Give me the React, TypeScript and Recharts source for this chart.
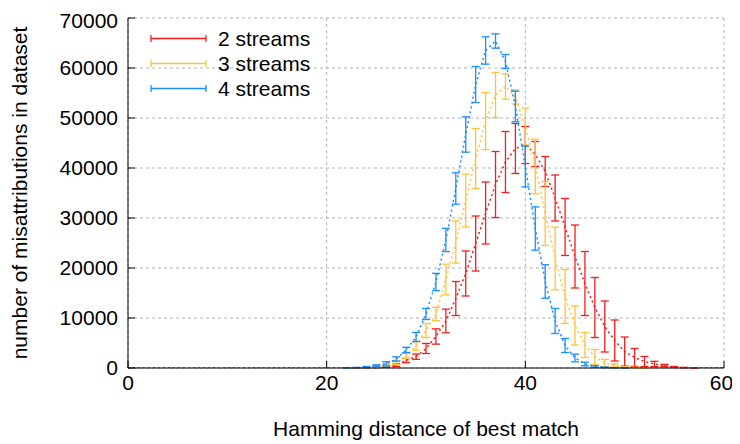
import { ComposedChart, Line, ErrorBar, XAxis, YAxis, CartesianGrid, Label } from 'recharts'

const distance = [
  0, 1, 2, 3, 4, 5, 6, 7, 8, 9, 10, 11, 12, 13, 14, 15, 16, 17, 18, 19, 20,
  21, 22, 23, 24, 25, 26, 27, 28, 29, 30, 31, 32, 33, 34, 35, 36, 37, 38, 39, 40,
  41, 42, 43, 44, 45, 46, 47, 48, 49, 50, 51, 52, 53, 54, 55, 56, 57, 58, 59, 60,
]

// 2 streams
const twoStreams = [
  0, 0, 0, 0, 0, 0, 0, 0, 0, 0, 0, 0, 0, 0, 0, 0, 0, 0, 0, 0, 0, 0, 0,
  30, 60, 120, 250, 550, 1500, 2270, 3900, 6300, 9400, 13900, 18900, 24900, 31000,
  36700, 41200, 43900, 44600, 42800, 39300, 34000, 28200, 22300, 16900, 12100, 8300,
  5500, 3300, 2100, 1300, 800, 500, 200, 80, 30, 0, 0, 0,
]
const twoStreamsErr = [
  0, 0, 0, 0, 0, 0, 0, 0, 0, 0, 0, 0, 0, 0, 0, 0, 0, 0, 0, 0, 0, 0, 0,
  20, 40, 60, 120, 280, 430, 530, 1000, 1530, 2370, 3400, 4500, 5500, 6200,
  6600, 6100, 5000, 3700, 2500, 3000, 4600, 5700, 6300, 6400, 6000, 5100,
  4100, 2900, 1800, 1000, 530, 230, 100, 50, 20, 0, 0, 0,
]

// 3 streams
const threeStreams = [
  0, 0, 0, 0, 0, 0, 0, 0, 0, 0, 0, 0, 0, 0, 0, 0, 0, 0, 0, 0, 0, 0, 0,
  50, 130, 300, 600, 1050, 2400, 4400, 7500, 10800, 17700, 25200, 33500, 41900, 49400,
  54600, 56300, 54200, 48300, 40300, 30900, 21900, 14300, 8500, 4600, 2200, 1000,
  500, 200, 80, 30, 0, 0, 0, 0, 0, 0, 0, 0,
]
const threeStreamsErr = [
  0, 0, 0, 0, 0, 0, 0, 0, 0, 0, 0, 0, 0, 0, 0, 0, 0, 0, 0, 0, 0, 0, 0,
  30, 60, 130, 250, 350, 500, 830, 1400, 1330, 3070, 4230, 5270, 6000, 5700,
  4500, 2530, 1400, 3670, 5470, 6400, 6270, 5400, 3900, 2500, 1500, 730,
  300, 130, 50, 20, 0, 0, 0, 0, 0, 0, 0, 0,
]

// 4 streams
const fourStreams = [
  0, 0, 0, 0, 0, 0, 0, 0, 0, 0, 0, 0, 0, 0, 0, 0, 0, 0, 0, 0, 0, 0,
  30, 80, 200, 500, 830, 1800, 3600, 6200, 10800, 17200, 25600, 35900, 46700, 56700,
  63500, 65400, 61300, 52300, 40300, 27900, 17300, 9400, 4500, 2000, 800, 300,
  120, 50, 20, 0, 0, 0, 0, 0, 0, 0, 0, 0, 0,
]
const fourStreamsErr = [
  0, 0, 0, 0, 0, 0, 0, 0, 0, 0, 0, 0, 0, 0, 0, 0, 0, 0, 0, 0, 0, 0,
  20, 40, 100, 130, 430, 430, 530, 900, 1100, 1730, 2330, 3130, 3530, 3600,
  2730, 1430, 1400, 3070, 4070, 4330, 3350, 2500, 1400, 770, 370, 150,
  60, 30, 10, 0, 0, 0, 0, 0, 0, 0, 0, 0, 0,
]

const xTicks = [0, 20, 40, 60]
const yTicks = [0, 10000, 20000, 30000, 40000, 50000, 60000, 70000]
const seriesNames = ['2 streams', '3 streams', '4 streams']

const RED = '#f41c1c'
const YELLOW = '#ffc23a'
const BLUE = '#1b8dff'
const colors = [RED, YELLOW, BLUE]

const FONT = '"Liberation Sans", Arial, sans-serif'
const FS = 21

const data = distance.map((x, i) => ({
  x,
  s2: twoStreams[i],
  s2e: twoStreamsErr[i],
  s3: threeStreams[i],
  s3e: threeStreamsErr[i],
  s4: fourStreams[i],
  s4e: fourStreamsErr[i],
}))

const tickStyle = { fill: '#000', fontSize: FS, fontFamily: FONT }

export default function App() {
  return (
    <div style={{ position: 'relative', width: 724, height: 436, fontFamily: FONT }}>
      <ComposedChart
        width={724}
        height={436}
        data={data}
        margin={{ top: 10, right: 8, left: 0, bottom: 0 }}
      >
        <CartesianGrid xAxisId="b" yAxisId="l" stroke="#b4b4b4" strokeDasharray="3 3" />
        <XAxis
          xAxisId="b"
          dataKey="x"
          type="number"
          domain={[0, 60]}
          ticks={xTicks}
          allowDataOverflow
          height={76}
          tickSize={-7}
          tickMargin={14}
          stroke="#000"
          tick={tickStyle}
        />
        <XAxis
          xAxisId="t"
          orientation="top"
          type="number"
          domain={[0, 60]}
          ticks={xTicks}
          allowDataOverflow
          height={0}
          tickSize={-7}
          tickFormatter={() => ''}
          stroke="#000"
        />
        <YAxis
          yAxisId="l"
          type="number"
          domain={[0, 70000]}
          ticks={yTicks}
          allowDataOverflow
          width={120}
          tickSize={-7}
          tickMargin={17}
          stroke="#000"
          tick={tickStyle}
        >
          <Label
            content={() => (
              <text
                x={18.7}
                y={185}
                transform="rotate(-90 18.7 185)"
                textAnchor="middle"
                fontSize={FS}
                fontFamily={FONT}
                fill="#000"
              >
                number of misattributions in dataset
              </text>
            )}
          />
        </YAxis>
        <YAxis
          yAxisId="r"
          orientation="right"
          type="number"
          domain={[0, 70000]}
          ticks={yTicks}
          allowDataOverflow
          width={0}
          tickSize={-7}
          tickFormatter={() => ''}
          stroke="#000"
        />
        <Line
          xAxisId="b"
          yAxisId="l"
          type="linear"
          dataKey="s2"
          stroke={RED}
          strokeWidth={1.5}
          strokeDasharray="2 3"
          dot={false}
          isAnimationActive={false}
        >
          <ErrorBar dataKey="s2e" width={4} stroke={RED} strokeWidth={1.3} direction="y" />
        </Line>
        <Line
          xAxisId="b"
          yAxisId="l"
          type="linear"
          dataKey="s3"
          stroke={YELLOW}
          strokeWidth={1.5}
          strokeDasharray="2 3"
          dot={false}
          isAnimationActive={false}
        >
          <ErrorBar dataKey="s3e" width={4} stroke={YELLOW} strokeWidth={1.3} direction="y" />
        </Line>
        <Line
          xAxisId="b"
          yAxisId="l"
          type="linear"
          dataKey="s4"
          stroke={BLUE}
          strokeWidth={1.5}
          strokeDasharray="2 3"
          dot={false}
          isAnimationActive={false}
        >
          <ErrorBar dataKey="s4e" width={4} stroke={BLUE} strokeWidth={1.3} direction="y" />
        </Line>
      </ComposedChart>
      <svg
        width={724}
        height={436}
        style={{ position: 'absolute', left: 0, top: 0, pointerEvents: 'none' }}
      >
        {seriesNames.map((name, i) => {
          const y = 30.5 + i * 25
          return (
            <g key={name}>
              <line x1={143} x2={198} y1={y} y2={y} stroke={colors[i]} strokeWidth={1.3} />
              <line x1={143} x2={143} y1={y - 3.5} y2={y + 3.5} stroke={colors[i]} strokeWidth={1.3} />
              <line x1={198} x2={198} y1={y - 3.5} y2={y + 3.5} stroke={colors[i]} strokeWidth={1.3} />
              <text x={210} y={y} dominantBaseline="central" fontSize={FS} fontFamily={FONT} fill="#000">
                {name}
              </text>
            </g>
          )
        })}
        <text x={418} y={428} textAnchor="middle" fontSize={FS} fontFamily={FONT} fill="#000">
          Hamming distance of best match
        </text>
      </svg>
    </div>
  )
}
